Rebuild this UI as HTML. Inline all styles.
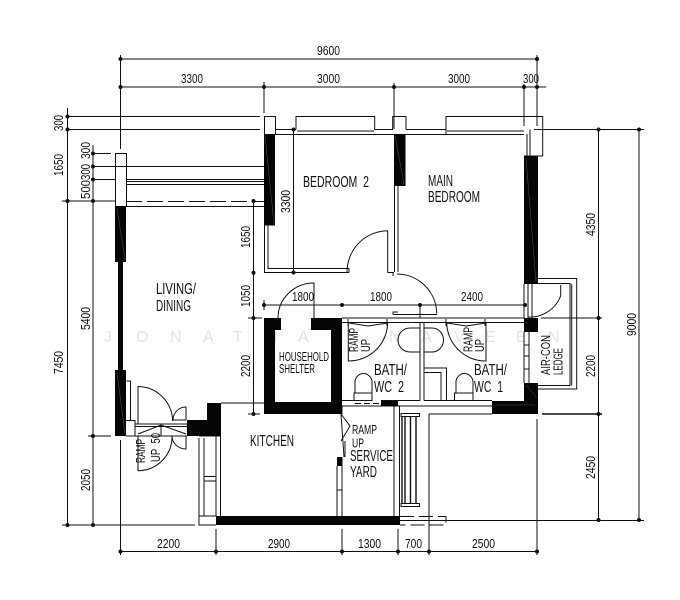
<!DOCTYPE html>
<html><head><meta charset="utf-8"><style>
html,body{margin:0;padding:0;background:#fff}
svg{display:block;filter:blur(0.35px)}
text{font-family:"Liberation Sans",sans-serif;font-size:13px;fill:#111}
.r{font-size:15.5px}.s{font-size:13px}
.h{font-size:12.5px}
.l{fill:none;stroke:#111;stroke-width:1}
.b{fill:#050505;stroke:none}
.t{fill:#111;stroke:none}
.w{font-size:16px;fill:#e2e2e2}
</style></head><body>
<svg width="680" height="600" viewBox="0 0 680 600" xmlns="http://www.w3.org/2000/svg">
<rect width="680" height="600" fill="#fff"/>
<text class="w" y="342" x="104 136 170 203 233 266 298 332 389 421 454 485 516 548">JONATHANNAVEEN</text>

<g class="l">
<!-- top dims -->
<path d="M120.5 59H537M120.5 87H546M120.5 55V149M264 82V113M394 83V129M524 84V126M537 55V126"/>
<!-- left dims -->
<path d="M67.5 108V525M93 145V525M67 116.5H260M67 129.5H260M93 153.5H111M93 166.5H264M93 179.5H115M62 201H115M88 436H111M62 525H195"/>
<path d="M253.5 201V415M248 318H262M248 414H260M293.5 129.5V272.5"/>
<path d="M120.5 440V555"/>
<!-- bottom dims -->
<path d="M120.5 551.5H537M216 529V555M342 529V555M398 529V555M429 414V555M537 419V555"/>
<!-- right dims -->
<path d="M598.5 129.5V520M639 129.5V520M534 129.5H644M541 318H602M400 520.5H644"/>
<path d="M542 414H602" stroke-width="1.6"/>
<path d="M305 305H525M264 300V310M420 305V318"/>
<!-- balcony -->
<path d="M126 166.5H264M126 179.5H264M126 181.5H264M126 184.5H264M126 206.5H264"/>
<path d="M126 201.5H264" stroke-dasharray="16 5"/>
<path d="M264 305H305"/>
<!-- left columns -->
<rect x="115.5" y="153.5" width="11" height="53"/>
<rect x="264.5" y="116.5" width="11" height="18"/>
<!-- bedroom 2 wall -->
<path d="M264.5 225V272.5H349M268 225V268.5H349V272.5M387.7 272.5H394M387.7 230.7V272.5M394.5 186V272M398 186V272M387.7 230.7A41 41 0 0 0 347 272"/>
<!-- top wall -->
<path d="M275 134.5H524M275 129.5H296M375 129.5H393M406 129.5H446M296 129.5V116.5H374.7V130M392.7 129.5V116.5H406V129.5M446 134V116.5H542.7V156H524M297 131H374M447 131H524M527 134V156M530 129.5V156"/>
<!-- main door -->
<path d="M397 274A40 40 0 0 1 436.7 313.5M393 276V272M393 314.5H437M393 314.5V312H398"/>
<!-- 1800 door -->
<path d="M314 283V318M314 283A36 35 0 0 0 278 318"/>
<!-- bath area -->
<path d="M342 318H524M342 322.5H524M420 322V400.5M424 322V400.5M342 400.5H355M381 400.5H420M424 400.5H492M342 406H492M429 414H492"/>
<path d="M424 368H446.5V400.5M424 372.5H441V400.5"/>
<path d="M348.3 322V361A39 39 0 0 0 387.7 322M446.7 322A39 39 0 0 0 486 361V322"/>
<path d="M349 323L368 326L388 323M447 323L466 326L486 323M348 319V326M387 319V326M446 319V326M485 319V326"/>
<path d="M420 328H410A12 12 0 0 0 410 352H420M424 328H432A11.5 12 0 0 1 432 352H424"/>
<path d="M355 393V381A8.7 9.5 0 0 1 372 381V393M354 393H372V400.5H354ZM456 393V381A8.7 9.5 0 0 1 473 381V393M454.5 393H473V400.5H454.5Z"/>
<path d="M355 403.5H381" stroke-dasharray="6 3"/>
<!-- right wall / ledge -->
<path d="M524 284V318M528 284V318M532 284V318M524 332V383M529 332V383M524 345H529M524 356H529M524 369H529"/>
<path d="M538 278.5H576.7V389H538M538 283.5H570V385.5H538M571.7 284V385.5M560.7 285V296A33 33 0 0 1 527.5 317"/>
<!-- service yard -->
<path d="M394 406V516M399.5 406V516M342 406V414M337 466V516M342 457V516M337 490H342"/>
<path d="M341 414L350 426L341 441M341 414L344 457M345 441V457"/>
<!-- drying rack -->
<path d="M401 413.5H419.5V416.5H401ZM401 503.5H419.5V506.5H401Z"/>
<path d="M402 416V504M405 416V504M410.5 416V504M416 416V504" stroke-width="1.4"/>
<path d="M400 516.5H446V525H400" stroke-dasharray="14 5"/>
<!-- kitchen -->
<path d="M221 403H264M220.5 436V516M216 436V516M199 436H221M199 438V525H216M204 438V516M199 516H216M204 476.5H216M204 481H216"/>
<!-- entry door -->
<path d="M126.5 381H130.5V420M126 420.5H135V436H126M135 424H187M135 426.5H187M135 436H187M135 421V436"/>
<path d="M138 424V386.5A35 35 0 0 1 172.6 421M186 420V407A13 13 0 0 0 173 420H186"/>
<path d="M138 436V470.7A34 34 0 0 0 172 436M186 436V449A14 13 0 0 1 172 436"/>
<path d="M138 434L161 425L186 434M161 425V436"/>
</g>

<!-- ticks -->
<g class="t">
<circle cx="120.5" cy="59" r="2"/><circle cx="537" cy="59" r="2"/>
<circle cx="120.5" cy="87" r="2"/><circle cx="264" cy="87" r="2"/><circle cx="394" cy="87" r="2"/><circle cx="524" cy="87" r="2"/><circle cx="537" cy="87" r="2"/>
<circle cx="67.5" cy="116.5" r="2"/><circle cx="67.5" cy="129.5" r="2"/><circle cx="67.5" cy="201" r="2"/><circle cx="67.5" cy="525" r="2"/>
<circle cx="93" cy="153.5" r="2"/><circle cx="93" cy="166.5" r="2"/><circle cx="93" cy="179.5" r="2"/><circle cx="93" cy="201" r="2"/><circle cx="93" cy="436" r="2"/><circle cx="93" cy="525" r="2"/>
<circle cx="253.5" cy="201" r="2"/><circle cx="253.5" cy="272.7" r="2"/><circle cx="253.5" cy="318" r="2"/><circle cx="253.5" cy="414" r="2"/>
<circle cx="293.5" cy="129.5" r="2"/><circle cx="293.5" cy="272.5" r="2"/>
<circle cx="120.5" cy="551.5" r="2"/><circle cx="216" cy="551.5" r="2"/><circle cx="342" cy="551.5" r="2"/><circle cx="398" cy="551.5" r="2"/><circle cx="429" cy="551.5" r="2"/><circle cx="537" cy="551.5" r="2"/>
<circle cx="598.5" cy="129.5" r="2"/><circle cx="598.5" cy="318" r="2"/><circle cx="598.5" cy="414" r="2"/><circle cx="598.5" cy="520" r="2"/>
<circle cx="639" cy="129.5" r="2"/><circle cx="639" cy="520" r="2"/>
<circle cx="264" cy="305" r="2"/><circle cx="342" cy="305" r="2"/><circle cx="420" cy="305" r="2"/><circle cx="525" cy="305" r="2"/>
</g>

<!-- black walls -->
<g class="b">
<rect x="115" y="206" width="11" height="56"/>
<rect x="118" y="262" width="5" height="108"/>
<rect x="115" y="370" width="11" height="66"/>
<rect x="264" y="134.5" width="11" height="91"/>
<rect x="394" y="134.5" width="11.5" height="51.5"/>
<rect x="524" y="156" width="14" height="128"/>
<path d="M264 318H281V330H275V402H331V330H311V318H342V414H264Z"/>
<path d="M207 403H221V436H187V420H207Z"/>
<rect x="216" y="516" width="184" height="9"/>
<rect x="381" y="401" width="17" height="5"/>
<rect x="524" y="318" width="14" height="14"/>
<rect x="524" y="383" width="14" height="18"/>
<rect x="492" y="401" width="46" height="13"/>
<rect x="337" y="457" width="5" height="9"/>
</g>
<path d="M265 136L274 224M395 136L404 184M526 158L536 282M117 208L125 260M117 372L125 434M526 385L537 398M495 405H535" fill="none" stroke="#555" stroke-width="0.5"/>

<!-- horizontal labels -->
<text x="317" y="55" textLength="23" lengthAdjust="spacingAndGlyphs">9600</text>
<text x="181" y="83" textLength="22" lengthAdjust="spacingAndGlyphs">3300</text>
<text x="317" y="83" textLength="23" lengthAdjust="spacingAndGlyphs">3000</text>
<text x="448" y="83" textLength="22" lengthAdjust="spacingAndGlyphs">3000</text>
<text x="523" y="83" textLength="16" lengthAdjust="spacingAndGlyphs">300</text>
<text x="292" y="301" textLength="22" lengthAdjust="spacingAndGlyphs">1800</text>
<text x="370" y="301" textLength="22" lengthAdjust="spacingAndGlyphs">1800</text>
<text x="461" y="301" textLength="22" lengthAdjust="spacingAndGlyphs">2400</text>
<text x="157" y="548" textLength="23" lengthAdjust="spacingAndGlyphs">2200</text>
<text x="268" y="548" textLength="22" lengthAdjust="spacingAndGlyphs">2900</text>
<text x="358" y="548" textLength="23" lengthAdjust="spacingAndGlyphs">1300</text>
<text x="405" y="548" textLength="17" lengthAdjust="spacingAndGlyphs">700</text>
<text x="472" y="548" textLength="23" lengthAdjust="spacingAndGlyphs">2500</text>

<!-- rotated labels -->
<text transform="translate(63,131) rotate(-90)" textLength="16" lengthAdjust="spacingAndGlyphs">300</text>
<text transform="translate(63,176) rotate(-90)" textLength="22" lengthAdjust="spacingAndGlyphs">1650</text>
<text transform="translate(90,159) rotate(-90)" textLength="17" lengthAdjust="spacingAndGlyphs">300</text>
<text transform="translate(90,180) rotate(-90)" textLength="16" lengthAdjust="spacingAndGlyphs">300</text>
<text transform="translate(90,199) rotate(-90)" textLength="19" lengthAdjust="spacingAndGlyphs">500</text>
<text transform="translate(290,213) rotate(-90)" textLength="23" lengthAdjust="spacingAndGlyphs">3300</text>
<text transform="translate(250,248) rotate(-90)" textLength="22" lengthAdjust="spacingAndGlyphs">1650</text>
<text transform="translate(250,307) rotate(-90)" textLength="22" lengthAdjust="spacingAndGlyphs">1050</text>
<text transform="translate(90,330) rotate(-90)" textLength="23" lengthAdjust="spacingAndGlyphs">5400</text>
<text transform="translate(63,374) rotate(-90)" textLength="23" lengthAdjust="spacingAndGlyphs">7450</text>
<text transform="translate(250,377) rotate(-90)" textLength="22" lengthAdjust="spacingAndGlyphs">2200</text>
<text transform="translate(90,491) rotate(-90)" textLength="22" lengthAdjust="spacingAndGlyphs">2050</text>
<text transform="translate(595,236) rotate(-90)" textLength="23" lengthAdjust="spacingAndGlyphs">4350</text>
<text transform="translate(636,336) rotate(-90)" textLength="23" lengthAdjust="spacingAndGlyphs">9000</text>
<text transform="translate(595,377) rotate(-90)" textLength="22" lengthAdjust="spacingAndGlyphs">2200</text>
<text transform="translate(595,479) rotate(-90)" textLength="23" lengthAdjust="spacingAndGlyphs">2450</text>

<!-- rooms -->
<text class="r" x="303" y="187" textLength="66" lengthAdjust="spacingAndGlyphs" xml:space="preserve">BEDROOM  2</text>
<text class="r" x="428" y="186" textLength="25" lengthAdjust="spacingAndGlyphs">MAIN</text>
<text class="r" x="428" y="202" textLength="52" lengthAdjust="spacingAndGlyphs">BEDROOM</text>
<text class="r" x="156" y="294" textLength="40" lengthAdjust="spacingAndGlyphs">LIVING/</text>
<text class="r" x="156" y="311" textLength="35" lengthAdjust="spacingAndGlyphs">DINING</text>
<text class="h" x="279" y="361" textLength="50" lengthAdjust="spacingAndGlyphs">HOUSEHOLD</text>
<text class="h" x="279" y="373" textLength="36" lengthAdjust="spacingAndGlyphs">SHELTER</text>
<text class="r" x="250" y="446" textLength="44" lengthAdjust="spacingAndGlyphs">KITCHEN</text>
<text class="r" x="374" y="375" textLength="33" lengthAdjust="spacingAndGlyphs">BATH/</text>
<text class="r" x="374" y="392" textLength="30" lengthAdjust="spacingAndGlyphs" xml:space="preserve">WC  2</text>
<text class="r" x="474" y="375" textLength="33" lengthAdjust="spacingAndGlyphs">BATH/</text>
<text class="r" x="474" y="392" textLength="29" lengthAdjust="spacingAndGlyphs" xml:space="preserve">WC  1</text>
<text class="r" x="350" y="461" textLength="43" lengthAdjust="spacingAndGlyphs">SERVICE</text>
<text class="r" x="350" y="477" textLength="27" lengthAdjust="spacingAndGlyphs">YARD</text>
<text class="s" x="352" y="434" textLength="25" lengthAdjust="spacingAndGlyphs">RAMP</text>
<text class="s" x="352" y="447.5" textLength="12" lengthAdjust="spacingAndGlyphs">UP</text>
<text class="s" transform="translate(550,375) rotate(-90)" textLength="40" lengthAdjust="spacingAndGlyphs">AIR-CON</text>
<text class="s" transform="translate(562.7,375) rotate(-90)" textLength="27" lengthAdjust="spacingAndGlyphs">LEDGE</text>
<text class="s" transform="translate(358,352) rotate(-90)" textLength="24" lengthAdjust="spacingAndGlyphs">RAMP</text>
<text class="s" transform="translate(370,352) rotate(-90)" textLength="13" lengthAdjust="spacingAndGlyphs">UP</text>
<text class="s" transform="translate(472.7,352) rotate(-90)" textLength="25" lengthAdjust="spacingAndGlyphs">RAMP</text>
<text class="s" transform="translate(484,352) rotate(-90)" textLength="13" lengthAdjust="spacingAndGlyphs">UP</text>
<text class="s" transform="translate(145,463) rotate(-90)" textLength="24" lengthAdjust="spacingAndGlyphs">RAMP</text>
<text class="s" transform="translate(160,462) rotate(-90)" textLength="29" lengthAdjust="spacingAndGlyphs" xml:space="preserve">UP  50</text>
</svg>
</body></html>
